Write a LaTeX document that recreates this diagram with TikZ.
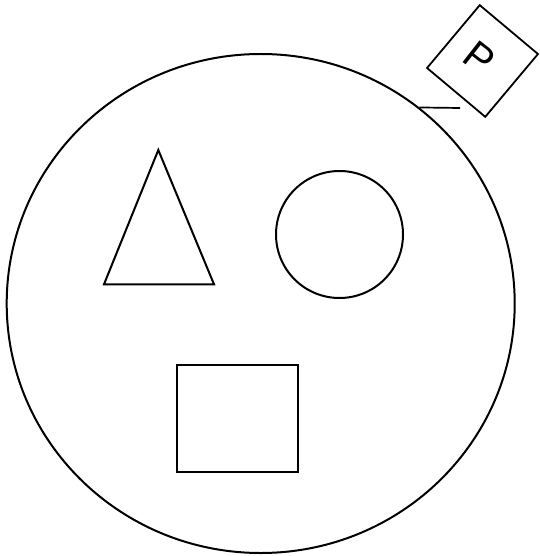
\documentclass[tikz,border=0pt]{standalone}
\usepackage{fontspec}
\setmainfont{Liberation Sans}
\usetikzlibrary{shapes.geometric}
\begin{document}
\begin{tikzpicture}[x=1pt,y=-1pt,
  shape line/.style={draw=black, line width=2pt},
  lbox/.style={shape line, rectangle, inner sep=0pt},
  ]
\useasboundingbox (0,0) rectangle (539,556);
% outer circle
\node[shape line, ellipse, inner sep=0pt, minimum width=508pt, minimum height=499pt] (outer) at (260.7,303.5) {};
% triangle
\coordinate (ta) at (158.3,150);
\coordinate (tb) at (104,284.3);
\coordinate (tc) at (214,284.3);
\draw[shape line, line join=miter] (ta) -- (tb) -- (tc) -- cycle;
% small circle
\node[shape line, circle, inner sep=0pt, minimum size=127pt] (circ) at (339.5,234.5) {};
% square
\node[lbox, minimum width=121.6pt, minimum height=107.3pt] (sq) at (237.5,418.6) {};
% P box
\node[lbox, line width=1.8pt, rotate=-40, minimum width=76pt, minimum height=82pt] (pbox) at (482.5,61) {};
\node[rotate=-38, font=\fontsize{40}{40}\selectfont, inner sep=0pt] (ptext) at (479.5,57.8) {P};
% line
\coordinate (lend) at (460,108);
\draw[line width=1.7pt] (outer.51.1) -- (lend);
\end{tikzpicture}
\end{document}
